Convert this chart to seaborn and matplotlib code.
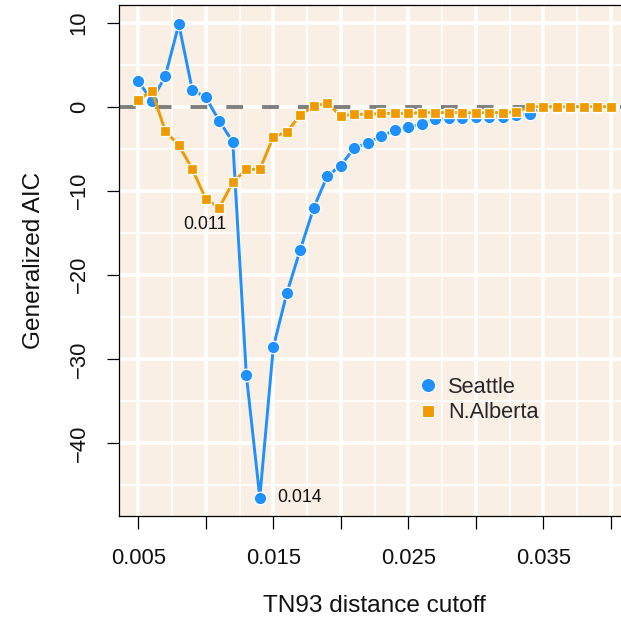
import matplotlib
matplotlib.use("Agg")
import matplotlib.pyplot as plt
from matplotlib.lines import Line2D
from matplotlib.ticker import FixedLocator
import numpy as np
import pandas as pd
import seaborn as sns

# ---- data ----
cutoffs = [0.005, 0.006, 0.007, 0.008, 0.009, 0.010, 0.011, 0.012, 0.013, 0.014,
           0.015, 0.016, 0.017, 0.018, 0.019, 0.020, 0.021, 0.022, 0.023, 0.024,
           0.025, 0.026, 0.027, 0.028, 0.029, 0.030, 0.031, 0.032, 0.033, 0.034,
           0.035, 0.036, 0.037, 0.038, 0.039, 0.040]
seattle = [3.05, 0.7, 3.65, 9.8, 2.0, 1.1, -1.7, -4.2, -31.9, -46.5,
           -28.6, -22.2, -17.0, -12.0, -8.25, -7.0, -4.9, -4.3, -3.5, -2.8,
           -2.4, -2.1, -1.5, -1.4, -1.3, -1.2, -1.2, -1.2, -1.0, -0.9,
           0.0, 0.0, 0.0, 0.0, 0.0, 0.0]
alberta = [0.8, 1.9, -2.9, -4.6, -7.4, -11.0, -12.0, -9.0, -7.45, -7.45,
           -3.6, -3.0, -1.0, 0.1, 0.4, -1.07, -0.9, -0.9, -0.8, -0.8,
           -0.8, -0.7, -0.7, -0.7, -0.7, -0.75, -0.7, -0.7, -0.6, 0.0,
           0.0, 0.0, 0.0, 0.0, 0.0, 0.0]
series_names = ["Seattle", "N.Alberta"]
x_tick_values = [0.005, 0.010, 0.015, 0.020, 0.025, 0.030, 0.035, 0.040]
x_tick_labels = ["0.005", "", "0.015", "", "0.025", "", "0.035", ""]
y_tick_values = [-40, -30, -20, -10, 0, 10]
y_tick_labels = ["\u221240", "\u221230", "\u221220", "\u221210", "0", "10"]

df = pd.DataFrame({
    "cutoff": cutoffs * 2,
    "aic": seattle + alberta,
    "region": [series_names[0]] * len(cutoffs) + [series_names[1]] * len(cutoffs),
})

BLUE = "#1E90FF"
ORANGE = "#EE9A00"
BG = "#FAEFE5"

sns.set_theme(style="white")
plt.rcParams["font.family"] = ["Liberation Sans", "DejaVu Sans"]

fig = plt.figure(figsize=(6.21, 6.23), dpi=100)
ax = fig.add_axes([119 / 621, (623 - 516) / 623, (630 - 119) / 621, (516 - 5) / 623])
ax.set_facecolor(BG)

# grid
ax.set_xticks(x_tick_values)
ax.xaxis.set_minor_locator(FixedLocator([0.0075, 0.0125, 0.0175, 0.0225, 0.0275, 0.0325, 0.0375]))
ax.set_yticks(y_tick_values)
ax.yaxis.set_minor_locator(FixedLocator([-45, -35, -25, -15, -5, 5]))
ax.grid(which="major", color="white", linewidth=2.6, zorder=0)
ax.grid(which="minor", color="white", linewidth=1.3, zorder=0)
ax.set_axisbelow(True)

ax.axhline(0, color="#7F7F7F", linewidth=2.8, dashes=(4.3, 4.9), zorder=1)

sns.lineplot(data=df, x="cutoff", y="aic", hue="region", style="region",
             hue_order=series_names, style_order=series_names,
             palette={"Seattle": BLUE, "N.Alberta": ORANGE},
             markers={"Seattle": "o", "N.Alberta": "s"}, dashes=False,
             markersize=9.0, markeredgecolor="white", markeredgewidth=0.9,
             linewidth=2.1, ax=ax, legend=False, zorder=3)
# squares are drawn slightly smaller than circles
for ln in ax.lines[1:]:
    if ln.get_marker() == "s":
        ln.set_markersize(7.9)

# annotations for minima
i_s = int(np.argmin(seattle))
i_a = int(np.argmin(alberta))
ax.annotate(f"{cutoffs[i_a]:.3f}", (cutoffs[i_a], alberta[i_a]), xytext=(-10.5, -12.3),
            textcoords="offset points", ha="center", va="center", fontsize=12.8, color="#111111")
ax.annotate(f"{cutoffs[i_s]:.3f}", (cutoffs[i_s], seattle[i_s]), xytext=(12.6, -0.3),
            textcoords="offset points", ha="left", va="center", fontsize=12.8, color="#111111")

ax.set_xlim(0.00357, 0.04142)
ax.set_ylim(-48.7, 12.1)

ax.set_xticklabels(x_tick_labels)
ax.set_yticklabels(y_tick_labels, rotation=90, va="center")
ax.tick_params(axis="both", which="major", direction="out", length=9, width=0.9,
               color="black", labelsize=15.8, labelcolor="#111111", bottom=True, left=True)
ax.tick_params(axis="x", which="major", pad=14)
ax.tick_params(axis="y", which="major", pad=12)
ax.tick_params(which="minor", length=0)

for s in ["left", "bottom", "top"]:
    ax.spines[s].set_visible(True)
    ax.spines[s].set_color("black")
    ax.spines[s].set_linewidth(0.9)
ax.spines["right"].set_visible(False)

ax.set_xlabel("TN93 distance cutoff", fontsize=17.6, color="#111111", labelpad=19)
ax.set_ylabel("Generalized AIC", fontsize=17.6, color="#111111", labelpad=17)

handles = [Line2D([], [], linestyle="none", marker="o", markersize=10.2, color=BLUE,
                  markeredgecolor="white", markeredgewidth=0.8),
           Line2D([], [], linestyle="none", marker="s", markersize=8.6, color=ORANGE,
                  markeredgecolor="white", markeredgewidth=0.8)]
leg = ax.legend(handles, series_names, frameon=False, fontsize=15.7,
                loc="upper left", bbox_to_anchor=(408 / 621, 1 - 366 / 623),
                bbox_transform=fig.transFigure, handlelength=0.8, handletextpad=0.55,
                labelspacing=0.2, borderpad=0.0)

fig.savefig("out.png", dpi=100)
